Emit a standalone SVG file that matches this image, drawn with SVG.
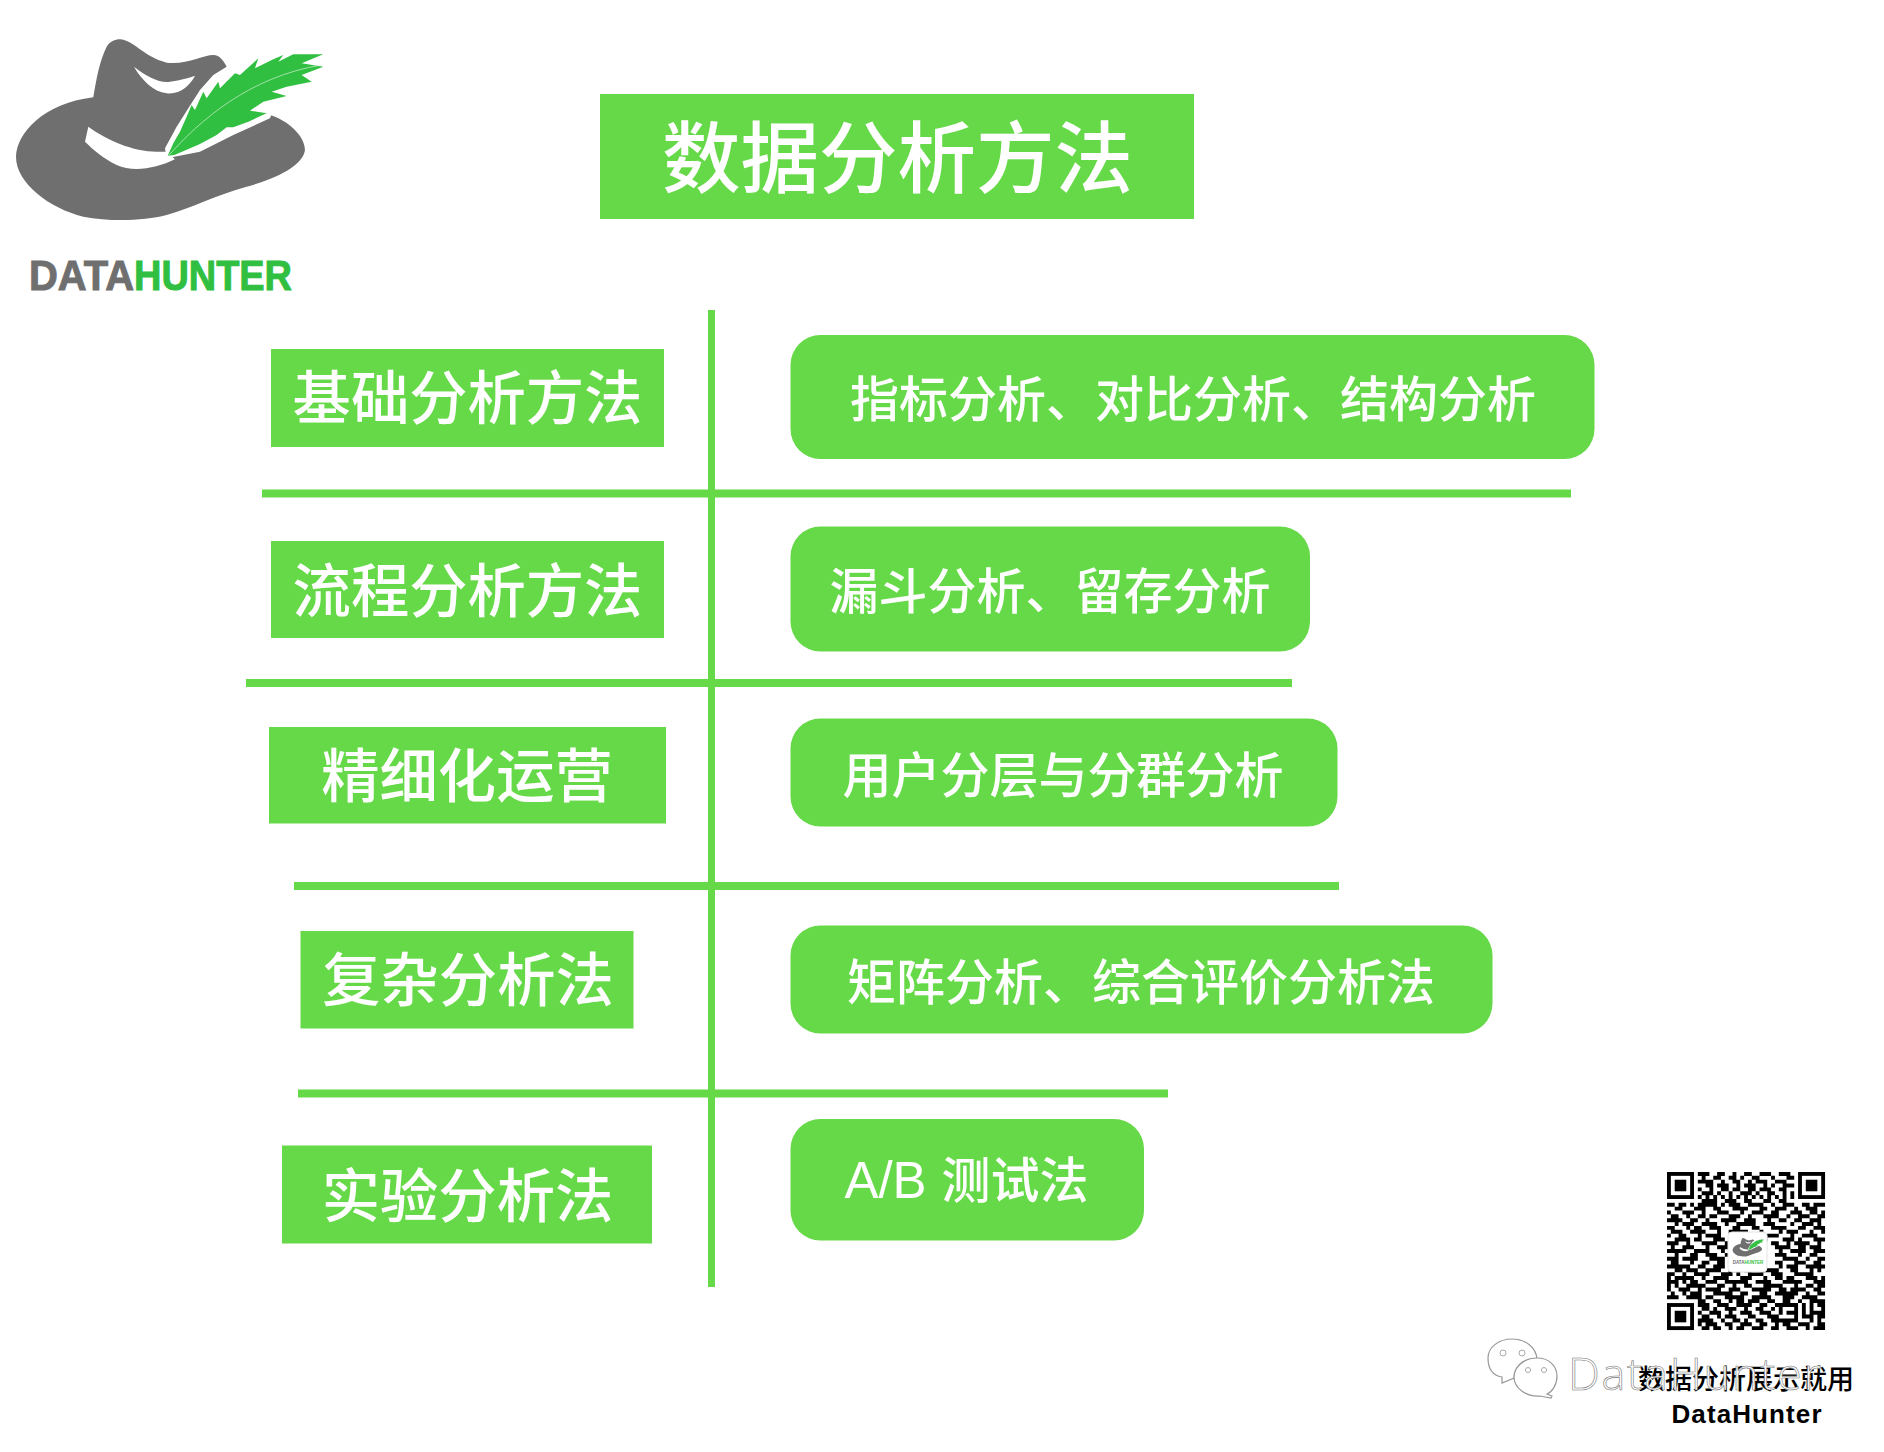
<svg xmlns="http://www.w3.org/2000/svg" xmlns:xlink="http://www.w3.org/1999/xlink" width="1884" height="1452" viewBox="0 0 1884 1452">
<style>
.g{fill:#66d948}
.t{fill:#fff;font-family:"Noto Sans CJK SC","Liberation Sans",sans-serif;text-anchor:middle;font-weight:500}
.h1{font-size:78.5px}.h2{font-size:58.3px}.h3{font-size:49px}
.brand{font-family:"Liberation Sans",sans-serif;font-weight:700;font-size:43px;stroke-width:1}
.bub{fill:#fff;stroke:#999;stroke-width:1.2}
</style>
<defs>
<g id="hat">
<path fill="#6f6f6f" d="M360,58C400,60 430,110 500,128C560,135 610,105 640,105C660,105 672,125 680,140L700,200L810,285C860,300 915,345 915,390C910,430 850,470 740,500C650,525 570,565 500,585C430,603 330,605 250,590C150,565 48,490 48,410C50,340 130,250 280,232C290,170 300,120 320,80C330,65 345,58 360,58Z"/>
<path fill="#fff" d="M680,140L640,165L600,210L565,265L530,320L495,385L500,415L600,395L700,345L810,295L820,270L720,120Z"/>
<path fill="#fff" d="M255,365L265,320C320,360 400,395 470,395L500,395L525,418C470,445 400,458 350,435C310,415 280,390 255,365Z"/>
<path fill="#fff" d="M402,140C440,170 480,190 510,185C550,180 575,170 585,168C570,195 540,225 500,220C460,215 425,180 402,140Z"/>
<path fill="#30bf40" d="M503,408L520,370L540,335L560,290L575,255L585,270L610,215L620,235L655,185L660,205L705,160L720,165L775,115L765,145L820,118L850,105L835,125L880,103L970,103L905,130L970,140L905,165L935,185L860,200L815,215L860,228L790,245L750,272L800,280L745,305L700,322L680,322L650,345L600,372L525,404Z"/>
<path fill="none" stroke="#d8f5dc" stroke-width="2" d="M505,408C600,300 750,170 965,135"/>
</g>
<g id="finder"><rect x=".5" y=".5" width="6" height="6" fill="none" stroke="#000"/><rect x="2" y="2" width="3" height="3"/></g>
</defs>
<rect width="1884" height="1452" fill="#fff"/>

<g id="logo">
<use href="#hat" transform="translate(0,20) scale(.3333)"/>
<text class="brand" x="29" y="290" fill="#6f6f6f" stroke="#6f6f6f" textLength="105" lengthAdjust="spacingAndGlyphs">DATA</text>
<text class="brand" x="134" y="290" fill="#30bf40" stroke="#30bf40" textLength="158" lengthAdjust="spacingAndGlyphs">HUNTER</text>
</g>

<g id="title"><rect class="g" x="600" y="94" width="594" height="125"/><text class="t h1" x="897.5" y="187">数据分析方法</text></g>

<g id="connectors">
<rect class="g" x="708" y="310" width="7" height="977"/>
<rect class="g" x="262" y="489.5" width="1309" height="8"/>
<rect class="g" x="246" y="679" width="1046" height="8"/>
<rect class="g" x="294" y="882" width="1045" height="8"/>
<rect class="g" x="298" y="1089.5" width="870" height="8"/>
</g>

<g id="cat1"><rect class="g" x="271" y="349" width="393" height="98"/><text class="t h2" x="467.5" y="419">基础分析方法</text></g>
<g id="cat2"><rect class="g" x="271" y="541" width="393" height="97"/><text class="t h2" x="467.5" y="612">流程分析方法</text></g>
<g id="cat3"><rect class="g" x="269" y="727" width="397" height="96.500"/><text class="t h2" x="467" y="797">精细化运营</text></g>
<g id="cat4"><rect class="g" x="300.500" y="931" width="333" height="97.500"/><text class="t h2" x="468" y="1001">复杂分析法</text></g>
<g id="cat5"><rect class="g" x="282" y="1145.500" width="370" height="98"/><text class="t h2" x="467.500" y="1217">实验分析法</text></g>

<g id="item1"><rect class="g" x="790.500" y="335" width="804" height="124" rx="30"/><text class="t h3" x="1193" y="417">指标分析、对比分析、结构分析</text></g>
<g id="item2"><rect class="g" x="790.500" y="526.500" width="519.500" height="125" rx="30"/><text class="t h3" x="1050" y="609">漏斗分析、留存分析</text></g>
<g id="item3"><rect class="g" x="790.500" y="718.500" width="547" height="108" rx="30"/><text class="t h3" x="1063" y="792.500">用户分层与分群分析</text></g>
<g id="item4"><rect class="g" x="790.500" y="925.500" width="702" height="108" rx="30"/><text class="t h3" x="1141" y="999.500">矩阵分析、综合评价分析法</text></g>
<g id="item5"><rect class="g" x="790.500" y="1119" width="353.500" height="121.500" rx="30"/><text class="t h3" x="966.500" y="1198"><tspan font-family="Liberation Sans" font-size="51">A/B</tspan><tspan dx="4"> </tspan>测试法</text></g>

<g id="qrcode">
<g transform="translate(1667,1172) scale(3.855)">
<use href="#finder"/><use href="#finder" x="34"/><use href="#finder" y="34"/>
<path transform="translate(0,.5)" fill="none" stroke="#000" stroke-width="1.02" d="M8 0h3M13 0h2M17 0h1M20 0h2M24 0h3M29 0h3M9 1h1M12 1h2M16 1h2M19 1h1M22 1h2M27 1h1M31 1h2M8 2h4M14 2h1M17 2h2M21 2h1M23 2h3M28 2h3M10 3h2M13 3h3M18 3h1M20 3h3M25 3h1M27 3h1M30 3h3M8 4h1M11 4h1M14 4h2M17 4h2M21 4h2M24 4h3M29 4h2M9 5h3M13 5h1M16 5h1M19 5h3M23 5h1M26 5h2M30 5h1M32 5h1M8 6h1M10 6h1M12 6h1M14 6h1M16 6h1M18 6h1M20 6h1M22 6h1M24 6h1M26 6h1M28 6h1M30 6h1M32 6h1M9 7h4M15 7h3M20 7h2M25 7h2M29 7h2M0 8h2M3 8h2M6 8h1M8 8h5M14 8h1M16 8h3M21 8h4M27 8h1M30 8h3M35 8h2M38 8h3M2 9h2M7 9h3M12 9h2M17 9h4M24 9h2M28 9h3M33 9h1M36 9h3M0 10h1M4 10h3M9 10h1M13 10h3M19 10h1M22 10h3M27 10h2M32 10h3M37 10h2M40 10h1M1 11h2M5 11h1M8 11h2M11 11h2M16 11h3M21 11h1M25 11h4M31 11h1M34 11h3M39 11h2M0 12h4M6 12h2M10 12h1M14 12h4M20 12h3M26 12h1M29 12h2M33 12h2M37 12h3M2 13h1M4 13h3M9 13h4M15 13h1M18 13h5M25 13h3M32 13h1M35 13h3M39 13h1M0 14h2M5 14h1M7 14h2M11 14h3M17 14h2M22 14h2M27 14h4M34 14h2M38 14h3M1 15h3M6 15h4M13 15h1M16 15h5M24 15h1M29 15h1M31 15h3M37 15h1M40 15h1M0 16h1M3 16h2M8 16h1M10 16h4M17 16h6M26 16h3M32 16h1M35 16h4M2 17h4M7 17h2M12 17h3M19 17h3M24 17h2M30 17h3M34 17h1M38 17h3M0 18h3M5 18h1M9 18h4M15 18h2M27 18h2M31 18h1M33 18h4M39 18h1M1 19h1M4 19h3M10 19h1M13 19h3M28 19h4M34 19h2M37 19h3M0 20h5M7 20h4M14 20h1M29 20h1M32 20h4M38 20h3M2 21h1M6 21h2M10 21h3M15 21h1M28 21h3M34 21h1M37 21h2M0 22h3M4 22h4M11 22h4M30 22h4M36 22h1M39 22h2M1 23h2M6 23h1M9 23h2M13 23h2M28 23h2M33 23h3M38 23h2M0 24h6M8 24h2M12 24h3M29 24h1M31 24h3M36 24h5M2 25h2M5 25h3M10 25h4M16 25h3M20 25h2M24 25h5M32 25h2M37 25h1M39 25h1M0 26h2M4 26h1M7 26h4M14 26h3M18 26h1M21 26h4M27 26h3M33 26h5M0 27h1M2 27h5M9 27h1M12 27h4M19 27h3M25 27h1M28 27h2M31 27h2M36 27h3M40 27h1M0 28h3M4 28h1M6 28h2M10 28h3M15 28h6M23 28h4M30 28h5M38 28h3M0 29h1M2 29h1M5 29h5M13 29h2M17 29h1M20 29h2M25 29h5M33 29h1M36 29h2M39 29h2M0 30h1M3 30h3M8 30h1M10 30h4M16 30h3M22 30h5M29 30h2M32 30h4M38 30h2M1 31h1M4 31h1M6 31h3M12 31h5M19 31h2M24 31h2M28 31h6M36 31h1M39 31h2M0 32h3M5 32h4M10 32h2M15 32h5M22 32h5M30 32h3M35 32h4M8 33h2M12 33h2M16 33h1M18 33h2M21 33h3M26 33h2M30 33h2M34 33h1M37 33h3M40 33h1M8 34h3M13 34h3M18 34h4M24 34h2M28 34h6M35 34h1M37 34h1M39 34h2M9 35h2M12 35h1M15 35h3M20 35h1M23 35h2M27 35h1M29 35h1M33 35h1M35 35h1M37 35h1M40 35h1M8 36h1M11 36h3M16 36h1M19 36h3M24 36h3M29 36h1M31 36h3M35 36h1M37 36h4M9 37h2M13 37h1M15 37h3M21 37h2M26 37h3M33 37h1M35 37h3M39 37h2M8 38h4M14 38h1M17 38h2M20 38h1M23 38h2M27 38h7M37 38h1M39 38h1M8 39h1M10 39h3M15 39h2M19 39h3M24 39h2M28 39h1M30 39h2M34 39h3M39 39h2M9 40h2M12 40h2M16 40h1M18 40h2M22 40h3M27 40h2M31 40h3M36 40h1M38 40h3"/>
</g>
<rect x="1728" y="1232" width="39" height="40" rx="4" fill="#fff" stroke="#e4e4e4"/>
<use href="#hat" transform="translate(1731,1236) scale(.034)"/>
<text x="1748" y="1264" font-family="Liberation Sans" font-size="4.5" font-weight="700" text-anchor="middle" fill="#6f6f6f">DATA<tspan fill="#30bf40">HUNTER</tspan></text>
</g>

<g id="caption">
<text x="1638" y="1389" font-family="'Noto Sans CJK SC',sans-serif" font-size="27" font-weight="500" fill="#000">数据分析展示就用</text>
<text x="1746.500" y="1423" font-family="Liberation Sans" font-size="26" font-weight="700" fill="#000" text-anchor="middle" textLength="150">DataHunter</text>
</g>
<g id="watermark">
<path class="bub" d="M1512,1339C1525,1339 1536,1347 1537,1359C1528,1358 1515,1362 1514,1378L1502,1383L1502,1377C1490,1375 1488,1366 1488,1358C1488,1347 1499,1339 1512,1339Z"/>
<path class="bub" d="M1537,1358C1550,1358 1557,1367 1557,1376C1557,1385 1552,1392 1547,1394L1552,1396L1551,1398L1540,1396C1526,1397 1514,1388 1514,1377C1514,1367 1524,1358 1537,1358Z"/>
<circle cx="1503" cy="1353" r="3" fill="#fff" stroke="#aaa"/><circle cx="1522" cy="1353" r="3" fill="#fff" stroke="#aaa"/>
<circle cx="1528" cy="1370" r="2.500" fill="#fff" stroke="#aaa"/><circle cx="1544" cy="1370" r="2.500" fill="#fff" stroke="#aaa"/>
<text x="1568" y="1390" font-family="Open Sans" font-size="45" font-weight="300" fill="#fff" stroke="#777" stroke-width=".6" textLength="253">DataHunter</text>
</g>
</svg>
